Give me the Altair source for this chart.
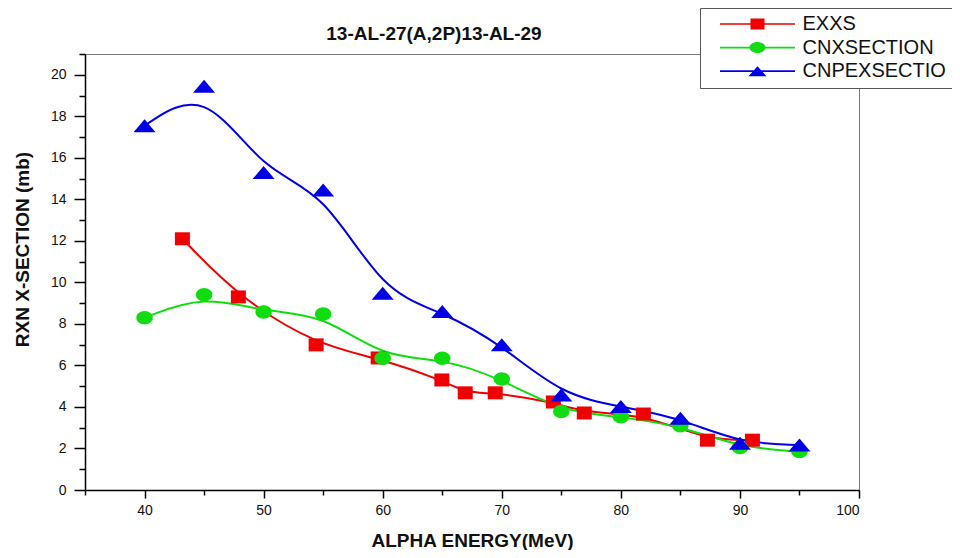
import altair as alt
import pandas as pd

# ---------------- data ----------------
series_names = ["EXXS", "CNXSECTION", "CNPEXSECTIO"]
series_colors = ["#f00000", "#10dd10", "#0000e6"]

exxs_x = [43.18, 47.88, 54.41, 59.62, 64.97, 66.93, 69.45, 74.33, 76.93, 81.89, 87.27, 91.05]
exxs_y = [12.10, 9.30, 6.99, 6.36, 5.30, 4.68, 4.68, 4.24, 3.71, 3.66, 2.40, 2.40]

cnx_x = [40, 45, 50, 55, 60, 65, 70, 75, 80, 85, 90, 95]
cnx_y = [8.30, 9.40, 8.57, 8.48, 6.35, 6.35, 5.35, 3.78, 3.53, 3.09, 2.05, 1.85]

cnp_x = [40, 45, 50, 55, 60, 65, 70, 75, 80, 85, 90, 95]
cnp_y = [17.55, 19.45, 15.29, 14.45, 9.48, 8.60, 6.99, 4.58, 4.02, 3.46, 2.25, 2.17]

x_major = [40, 50, 60, 70, 80, 90, 100]
x_minor = [35, 45, 55, 65, 75, 85, 95]
y_major = [0, 2, 4, 6, 8, 10, 12, 14, 16, 18, 20]
y_minor = [1, 3, 5, 7, 9, 11, 13, 15, 17, 19, 21]

# marker shapes (unit paths, scaled by Vega)
plot_shapes = [
    "M-1.5,-1.3H1.5V1.3H-1.5Z",
    "M-1.65,0A1.65,1.35 0 1,1 1.65,0A1.65,1.35 0 1,1 -1.65,0Z",
    "M0,-1.3L2.2,1.3L-2.2,1.3Z",
]
line_seg = "M-7.5,-0.17H7.5V0.17H-7.5Z "
legend_shapes = [
    line_seg + "M-1.4,-1.1H1.4V1.1H-1.4Z",
    line_seg + "M-1.6,0A1.6,1.1 0 1,1 1.6,0A1.6,1.1 0 1,1 -1.6,0Z",
    line_seg + "M0,-1.0L1.8,1.0L-1.8,1.0Z",
]

rows = []
for k, (name, xs, ys) in enumerate(zip(series_names, [exxs_x, cnx_x, cnp_x], [exxs_y, cnx_y, cnp_y])):
    for xv, yv in zip(xs, ys):
        rows.append({"series": name, "k": k, "energy": xv, "xs": yv})
df = pd.DataFrame(rows)

FONT = "Liberation Sans"

x_scale = alt.Scale(domain=[35, 100], nice=False, zero=False)
y_scale = alt.Scale(domain=[0, 21], nice=False, zero=False)


def cscale():
    return alt.Scale(domain=series_names, range=series_colors)


base = alt.Chart(df)

x_major_axis = alt.Axis(
    values=x_major, orient="bottom", format="d", grid=False,
    tickSize=8, tickWidth=1.5, tickColor="black",
    domainColor="black", domainWidth=1.5,
    labelFont=FONT, labelFontSize=14, labelColor="#111", labelPadding=5,
    title="ALPHA ENERGY(MeV)", titleFont=FONT, titleFontSize=19,
    titleFontWeight="bold", titleColor="#111", titlePadding=14,
)
y_major_axis = alt.Axis(
    values=y_major, orient="left", format="d", grid=False,
    tickSize=11, tickWidth=1.5, tickColor="black",
    domainColor="black", domainWidth=1.5,
    labelFont=FONT, labelFontSize=14, labelColor="#111", labelPadding=8,
    title="RXN X-SECTION (mb)", titleFont=FONT, titleFontSize=19,
    titleFontWeight="bold", titleColor="#111",
    titleX=-63, titleY=195, titleBaseline="middle", titleAngle=270,
)
x_minor_axis = alt.Axis(
    values=x_minor, orient="bottom", grid=False, labels=False, domain=False,
    tickSize=5, tickWidth=1.5, tickColor="black", title=None,
)
y_minor_axis = alt.Axis(
    values=y_minor, orient="left", grid=False, labels=False, domain=False,
    tickSize=6, tickWidth=1.5, tickColor="black", title=None,
)

minor_layer = base.mark_point(opacity=0).encode(
    x=alt.X("energy:Q", scale=x_scale, axis=x_minor_axis),
    y=alt.Y("xs:Q", scale=y_scale, axis=y_minor_axis),
)

lines = base.mark_line(interpolate="basis", strokeWidth=2).encode(
    x=alt.X("energy:Q", scale=x_scale, axis=x_major_axis),
    y=alt.Y("xs:Q", scale=y_scale, axis=y_major_axis),
    color=alt.Color("series:N", scale=cscale(), legend=None),
)

points = base.mark_point(filled=True, opacity=1, size=100).encode(
    x=alt.X("energy:Q", scale=x_scale, axis=None),
    y=alt.Y("xs:Q", scale=y_scale, axis=None),
    color=alt.Color("series:N", scale=cscale(), legend=None),
    shape=alt.Shape("series:N", scale=alt.Scale(domain=series_names, range=plot_shapes), legend=None),
    order=alt.Order("k:Q"),
)

leg = alt.Legend(
    orient="none", legendX=615, legendY=-46, padding=6,
    fillColor="white", strokeColor="#555555",
    title=None, symbolSize=100, symbolOffset=41.5, symbolStrokeWidth=0,
    labelOffset=35, labelFont=FONT, labelFontSize=20, labelColor="#111",
    rowPadding=3.6, labelLimit=300,
)

legend_layer = base.transform_filter("datum.xs < 0").mark_point(filled=True, opacity=1).encode(
    x=alt.X("energy:Q", scale=x_scale, axis=None),
    y=alt.Y("xs:Q", scale=y_scale, axis=None),
    color=alt.Color("series:N", scale=cscale(), legend=leg),
    shape=alt.Shape("series:N", scale=alt.Scale(domain=series_names, range=legend_shapes), legend=leg),
)

chart = (
    alt.layer(minor_layer, lines, points, legend_layer)
    .resolve_scale(color="independent", shape="independent")
    .resolve_axis(x="independent", y="independent")
    .properties(
        width=774, height=436,
        padding={"left": 77, "top": 46, "right": 93, "bottom": 60},
        autosize=alt.AutoSizeParams(type="none"),
        title=alt.TitleParams(
            "13-AL-27(A,2P)13-AL-29", font=FONT, fontSize=19, fontWeight="bold",
            color="#111", anchor="middle", dx=-38, offset=-51,
            baseline="alphabetic", frame="group",
        ),
        background="white",
    )
    .configure_view(stroke="#7a7a7a", strokeWidth=1)
)

chart.save("out.html", embed_options={"renderer": "svg", "actions": False})
